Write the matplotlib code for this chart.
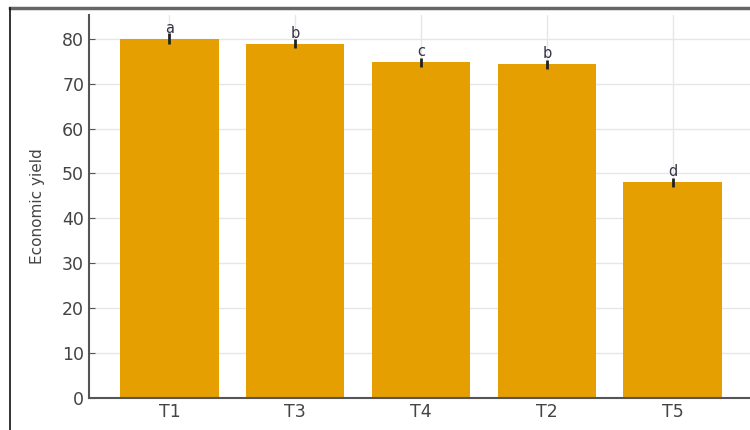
import matplotlib
matplotlib.use("Agg")
import matplotlib.pyplot as plt
from matplotlib.lines import Line2D

treatments = ["T1", "T3", "T4", "T2", "T5"]
yield_mean = [80.0, 78.9, 74.8, 74.3, 48.0]
yield_err = [1.2, 1.0, 1.0, 1.0, 1.0]
letters = ["a", "b", "c", "b", "d"]

W, H = 750, 430
fig = plt.figure(figsize=(W / 100, H / 100), dpi=100)
# axes box in pixels: left spine x=89, bottom y=398, top y=15, right edge just off the picture
ax = fig.add_axes([89 / W, (H - 398) / H, (753 - 89) / W, (398 - 15) / H])

x = range(len(treatments))
ax.bar(x, yield_mean, width=0.78, color="#E69F00", zorder=2)
ax.errorbar(x, yield_mean, yerr=yield_err, fmt="none", ecolor="#222222",
            elinewidth=2, capsize=0, zorder=3)
for i, (m, e, s) in enumerate(zip(yield_mean, yield_err, letters)):
    ax.text(i, m + 0.7, s, ha="center", va="bottom", fontsize=10.5,
            color="#333344", zorder=4)

ax.set_xticks(list(x))
ax.set_xticklabels(treatments)
ax.set_xlim(-0.64, 4.64)
ax.set_ylim(0, 85.3)
ax.set_yticks(range(0, 81, 10))
ax.set_ylabel("Economic yield", fontsize=11, color="#444444", labelpad=12)

ax.grid(True, color="#e6e6e6", linewidth=1, zorder=0)
ax.set_axisbelow(True)
for side in ["top", "right"]:
    ax.spines[side].set_visible(False)
for side in ["left", "bottom"]:
    ax.spines[side].set_color("#555555")
    ax.spines[side].set_linewidth(1.5)
ax.tick_params(direction="in", length=4, color="#555555", labelsize=12.5,
               labelcolor="#444444")

# screenshot frame
fig.add_artist(Line2D([10 / W, 1], [1 - 8 / H, 1 - 8 / H], color="#666666", linewidth=2.5))
fig.add_artist(Line2D([10 / W, 10 / W], [0, 1 - 8 / H], color="#111111", linewidth=1.2))

fig.savefig("out.png", dpi=100)
